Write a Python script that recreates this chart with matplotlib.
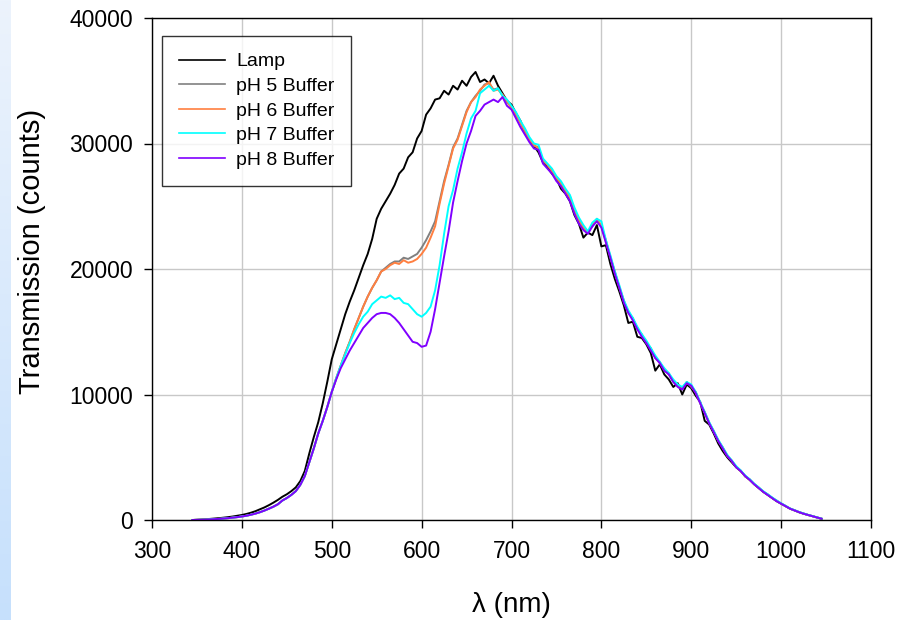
import numpy as np
import matplotlib
matplotlib.use("Agg")
import matplotlib.pyplot as plt

plt.rcParams['font.family'] = ['Liberation Sans', 'DejaVu Sans']

# wavelengths sampled every 5 nm from 345 to 1045 nm
wavelength = list(range(345, 1046, 5))

lamp = [
    0, 20, 40, 60, 90, 120, 150, 190, 230, 280,
    340, 400, 480, 580, 700, 850, 1000, 1180, 1380, 1600,
    1850, 2050, 2300, 2600, 3100, 3900, 5300, 6600, 7800, 9300,
    11000, 12800, 14000, 15200, 16400, 17400, 18300, 19300, 20300, 21200,
    22400, 24000, 24800, 25400, 26000, 26700, 27600, 28000, 28900, 29300,
    30400, 31000, 32300, 32800, 33500, 33600, 34200, 33900, 34600, 34300,
    35000, 34600, 35300, 35700, 34900, 35100, 34800, 35400, 34600, 34000,
    33400, 33100, 32400, 31800, 30900, 30300, 29800, 29300, 28500, 28100,
    27600, 27200, 26400, 26000, 25400, 24300, 23600, 22500, 22900, 22700,
    23500, 21800, 21900, 20400, 19200, 18200, 17100, 15700, 15800, 14600,
    14500, 14000, 13300, 11900, 12400, 11600, 11200, 10600, 10900, 10000,
    10800, 10500, 9900, 9400, 7900, 7600, 6900, 6100, 5500, 5000,
    4600, 4200, 3900, 3500, 3200, 2850, 2550, 2250, 2000, 1750,
    1500, 1300, 1100, 900, 760, 620, 500, 400, 300, 200,
    100]

ph5 = [
    0, 10, 20, 30, 50, 70, 90, 120, 150, 190,
    230, 280, 340, 420, 510, 620, 750, 900, 1060, 1250,
    1550, 1750, 2000, 2300, 2800, 3500, 4600, 5700, 6900, 7900,
    9000, 10200, 11300, 12300, 13300, 14200, 15200, 16100, 17000, 17800,
    18500, 19100, 19800, 20100, 20400, 20600, 20600, 20900, 20800, 21000,
    21200, 21700, 22300, 23000, 23800, 25400, 27000, 28300, 29700, 30400,
    31500, 32600, 33300, 33800, 34200, 34700, 34800, 34300, 34400, 33800,
    33300, 32900, 32200, 31700, 30900, 30400, 29800, 29700, 28600, 28300,
    27900, 27200, 26900, 26100, 25800, 24600, 24000, 23200, 23000, 23400,
    24000, 23400, 22300, 20900, 19800, 18500, 17500, 16500, 16100, 15200,
    14800, 14100, 13700, 12900, 12600, 11900, 11700, 11000, 10800, 10400,
    11000, 10600, 10200, 9300, 8600, 7700, 7100, 6300, 5800, 5100,
    4750, 4200, 3950, 3450, 3250, 2850, 2600, 2250, 2050, 1750,
    1550, 1300, 1120, 900, 780, 620, 520, 400, 310, 200,
    110]

ph6 = [
    0, 10, 20, 30, 50, 70, 90, 120, 150, 190,
    230, 280, 340, 420, 510, 620, 750, 900, 1060, 1250,
    1550, 1750, 2000, 2300, 2800, 3500, 4600, 5700, 6900, 7900,
    9000, 10200, 11300, 12300, 13300, 14200, 15200, 16100, 17000, 17800,
    18500, 19100, 19800, 20000, 20300, 20500, 20400, 20700, 20500, 20600,
    20800, 21200, 21700, 22500, 23400, 25200, 26800, 28200, 29600, 30300,
    31400, 32500, 33300, 33700, 34300, 34600, 34900, 34200, 34300, 33900,
    33400, 32800, 32300, 31600, 31000, 30300, 29900, 29600, 28700, 28300,
    27800, 27300, 26800, 26200, 25700, 24700, 23900, 23300, 22900, 23500,
    23900, 23500, 22200, 21000, 19700, 18600, 17400, 16600, 16000, 15300,
    14700, 14200, 13600, 13000, 12500, 12000, 11600, 11100, 10700, 10500,
    10950, 10700, 10150, 9350, 8550, 7750, 7050, 6350, 5750, 5150,
    4700, 4250, 3900, 3500, 3200, 2870, 2570, 2270, 2020, 1770,
    1520, 1310, 1100, 900, 770, 630, 510, 400, 300, 200,
    100]

ph7 = [
    0, 10, 20, 30, 50, 70, 90, 120, 150, 190,
    230, 280, 340, 420, 510, 620, 750, 900, 1060, 1250,
    1550, 1750, 2000, 2300, 2800, 3500, 4600, 5700, 6900, 7900,
    9000, 10200, 11300, 12300, 13200, 14100, 14900, 15600, 16200, 16600,
    17200, 17500, 17800, 17700, 17900, 17600, 17700, 17300, 17200, 16800,
    16400, 16200, 16500, 17000, 18300, 20300, 22800, 25000, 26300, 28000,
    29300, 30800, 32000, 32600, 34000, 34300, 34600, 34200, 34400, 33800,
    33500, 33000, 32500, 31800, 31200, 30500, 30000, 29900, 28800, 28400,
    28000, 27400, 27000, 26400, 25900, 24900, 24100, 23500, 23000, 23700,
    24000, 23800, 22300, 21100, 19800, 18700, 17500, 16700, 16100, 15400,
    14800, 14300, 13700, 13100, 12600, 12100, 11700, 11200, 10800, 10600,
    11000, 10800, 10200, 9400, 8600, 7800, 7100, 6400, 5800, 5200,
    4750, 4300, 3950, 3550, 3250, 2900, 2600, 2300, 2050, 1800,
    1550, 1330, 1120, 920, 780, 640, 520, 410, 310, 210,
    110]

ph8 = [
    0, 10, 20, 30, 50, 70, 90, 120, 150, 190,
    230, 280, 340, 420, 510, 620, 750, 900, 1060, 1250,
    1550, 1750, 2000, 2300, 2800, 3500, 4600, 5700, 6900, 7900,
    9000, 10200, 11200, 12100, 12800, 13500, 14100, 14700, 15300, 15700,
    16100, 16400, 16500, 16500, 16400, 16100, 15700, 15200, 14700, 14200,
    14100, 13800, 13900, 15000, 16800, 18900, 21000, 23000, 25300, 27000,
    28600, 30000, 31000, 32200, 32600, 33100, 33300, 33500, 33300, 33700,
    33000, 32700, 32000, 31300, 30700, 30100, 29600, 29500, 28400, 28000,
    27600, 27000, 26600, 26000, 25400, 24400, 23600, 23100, 22800, 23400,
    23800, 23300, 22100, 20900, 19600, 18500, 17300, 16500, 15900, 15200,
    14600, 14100, 13500, 12900, 12500, 11900, 11600, 11000, 10600, 10400,
    10900, 10700, 10100, 9300, 8500, 7700, 7000, 6300, 5700, 5100,
    4700, 4200, 3900, 3500, 3200, 2850, 2550, 2250, 2000, 1750,
    1500, 1300, 1100, 900, 760, 620, 500, 400, 300, 200,
    100]

series_names = ["Lamp", "pH 5 Buffer", "pH 6 Buffer", "pH 7 Buffer", "pH 8 Buffer"]
series_values = [lamp, ph5, ph6, ph7, ph8]
series_colors = ["#000000", "#808080", "#FF7F40", "#00FFFF", "#8000FF"]

x_ticks = [300, 400, 500, 600, 700, 800, 900, 1000, 1100]
y_ticks = [0, 10000, 20000, 30000, 40000]

fig = plt.figure(figsize=(9, 6.2), dpi=100)

# light blue strip on the left edge
strip = fig.add_axes([0, 0, 11 / 900, 1])
grad = np.linspace(0, 1, 256).reshape(-1, 1)
top_c = np.array([236, 243, 252]) / 255
bot_c = np.array([198, 224, 252]) / 255
img = top_c[None, None, :] * (1 - grad[:, :, None]) + bot_c[None, None, :] * grad[:, :, None]
strip.imshow(img, aspect='auto', extent=[0, 1, 0, 1])
strip.axis('off')

ax = fig.add_axes([152 / 900, 1 - 520 / 620, (871 - 152) / 900, (520 - 18) / 620])

for name, vals, col in zip(series_names, series_values, series_colors):
    ax.plot(wavelength, vals, color=col, lw=1.4, label=name)

ax.set_xlim(300, 1100)
ax.set_ylim(0, 40000)
ax.set_xticks(x_ticks)
ax.set_yticks(y_ticks)
ax.set_xticklabels([str(v) for v in x_ticks])
ax.set_yticklabels([str(v) for v in y_ticks])
ax.grid(True, color="#c8c8c8", lw=1.0)
ax.set_axisbelow(True)
for s in ax.spines.values():
    s.set_color("black")
    s.set_linewidth(1.0)
ax.tick_params(direction='out', length=5.5, width=1.0, labelsize=16.5)
ax.tick_params(axis='x', pad=9)
ax.tick_params(axis='y', pad=8)

fig.text(32 / 900, 1 - 251 / 620, "Transmission (counts)", rotation=90,
         ha='center', va='center', fontsize=21)
fig.text(511 / 900, 1 - 605 / 620, "λ (nm)", ha='center', va='center', fontsize=20)

leg = ax.legend(loc='upper left', bbox_to_anchor=(10 / 719, (520 - 36) / 502),
                fontsize=14, frameon=True, fancybox=False, borderpad=0.86,
                labelspacing=0.36, handlelength=2.37, handletextpad=0.57,
                borderaxespad=0)
leg.get_frame().set_edgecolor("black")
leg.get_frame().set_linewidth(1.0)
for line in leg.get_lines():
    line.set_linewidth(1.2)

fig.savefig("out.png", dpi=100)
